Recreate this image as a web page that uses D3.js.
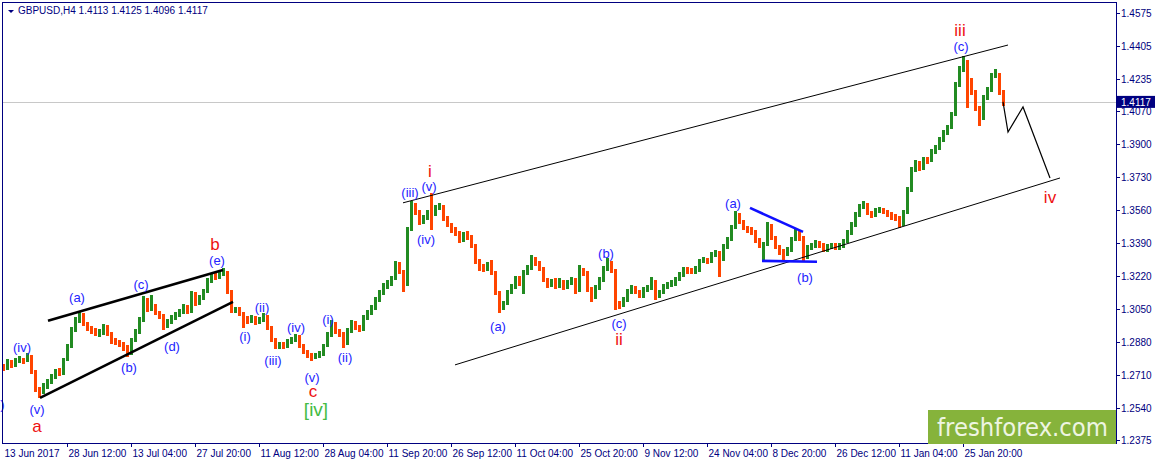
<!DOCTYPE html>
<html><head><meta charset="utf-8">
<script src="https://cdn.jsdelivr.net/npm/d3@7"></script>
<style>body{margin:0;background:#fff;}svg{display:block;}</style>
</head><body><svg id="c" width="1155" height="465"></svg>
<script>
// ---- data: GBPUSD H4, each point aggregates 4 H4 bars ----
const barStep = 4;
const firstOpen = 1.2750;
const closes = [
1.2746,1.2773,1.2762,1.2778,1.2788,1.2783,1.2803,1.2726,1.2633,1.2623,
1.2654,1.2675,1.2700,1.2726,1.2721,1.2788,1.2855,1.2942,1.2994,1.3024,
1.2973,1.2948,1.2937,1.2922,1.2927,1.2958,1.2922,1.2886,1.2876,1.2870,
1.2850,1.2824,1.2891,1.2932,1.2994,1.3097,1.3050,1.3066,1.3030,1.3014,
1.2963,1.2984,1.3004,1.3019,1.3035,1.3061,1.3035,1.3133,1.3076,1.3107,
1.3138,1.3195,1.3221,1.3215,1.3231,1.3236,1.3138,1.3040,1.3045,1.3024,
1.2994,1.2989,1.3004,1.2984,1.2994,1.3009,1.2953,1.2891,1.2855,1.2865,
1.2855,1.2881,1.2891,1.2906,1.2860,1.2829,1.2808,1.2803,1.2808,1.2819,
1.2860,1.2917,1.2973,1.2932,1.2922,1.2870,1.2937,1.2978,1.2953,1.2942,
1.3004,1.3030,1.3055,1.3097,1.3133,1.3169,1.3184,1.3205,1.3282,1.3241,
1.3179,1.3457,1.3581,1.3550,1.3499,1.3519,1.3545,1.3540,1.3571,1.3576,
1.3519,1.3483,1.3457,1.3442,1.3406,1.3427,1.3422,1.3375,1.3293,1.3262,
1.3257,1.3277,1.3236,1.3133,1.3055,1.3076,1.3133,1.3164,1.3205,1.3184,
1.3236,1.3262,1.3308,1.3288,1.3257,1.3200,1.3174,1.3190,1.3169,1.3190,
1.3164,1.3184,1.3200,1.3143,1.3246,1.3236,1.3153,1.3112,1.3159,1.3200,
1.3257,1.3282,1.3246,1.3076,1.3071,1.3097,1.3138,1.3159,1.3138,1.3117,
1.3148,1.3159,1.3190,1.3117,1.3133,1.3164,1.3174,1.3179,1.3200,1.3226,
1.3251,1.3246,1.3241,1.3251,1.3293,1.3303,1.3293,1.3329,1.3339,1.3303,
1.3370,1.3406,1.3468,1.3535,1.3499,1.3468,1.3457,1.3447,1.3406,1.3375,
1.3380,1.3478,1.3416,1.3370,1.3344,1.3339,1.3354,1.3406,1.3442,1.3416,
1.3313,1.3365,1.3375,1.3390,1.3380,1.3354,1.3370,1.3375,1.3365,1.3375,
1.3396,1.3442,1.3483,1.3535,1.3576,1.3586,1.3545,1.3530,1.3555,1.3560,
1.3550,1.3535,1.3524,1.3519,1.3488,1.3545,1.3663,1.3766,1.3803,1.3777,
1.3818,1.3813,1.3859,1.3880,1.3921,1.3957,1.3983,1.4050,1.4204,1.4282,
1.4323,1.4220,1.4168,1.4086,1.4034,1.4137,1.4178,1.4251,1.4256,1.4168,
1.4117];
const highs = [
1.2768,1.2790,1.2786,1.2795,1.2806,1.2800,1.2822,1.2812,1.2735,1.2650,
1.2670,1.2690,1.2716,1.2742,1.2745,1.2800,1.2868,1.2955,1.3010,1.3040,
1.3030,1.2985,1.2962,1.2950,1.2945,1.2975,1.2968,1.2930,1.2900,1.2892,
1.2882,1.2862,1.2902,1.2945,1.3008,1.3117,1.3105,1.3123,1.3075,1.3042,
1.3022,1.2998,1.3018,1.3032,1.3050,1.3075,1.3070,1.3145,1.3140,1.3122,
1.3152,1.3208,1.3236,1.3240,1.3248,1.3262,1.3245,1.3150,1.3062,1.3058,
1.3035,1.3012,1.3020,1.3015,1.3010,1.3030,1.3018,1.2962,1.2900,1.2880,
1.2878,1.2895,1.2905,1.2922,1.2915,1.2870,1.2840,1.2822,1.2825,1.2832,
1.2872,1.2930,1.2994,1.2982,1.2948,1.2930,1.2950,1.2992,1.2988,1.2965,
1.3018,1.3045,1.3070,1.3110,1.3148,1.3182,1.3200,1.3222,1.3295,1.3292,
1.3250,1.3470,1.3607,1.3595,1.3560,1.3535,1.3560,1.3648,1.3588,1.3595,
1.3585,1.3530,1.3495,1.3470,1.3452,1.3445,1.3450,1.3432,1.3385,1.3305,
1.3280,1.3292,1.3300,1.3245,1.3142,1.3092,1.3148,1.3178,1.3220,1.3218,
1.3250,1.3278,1.3329,1.3320,1.3298,1.3265,1.3212,1.3205,1.3210,1.3208,
1.3200,1.3198,1.3215,1.3210,1.3277,1.3262,1.3245,1.3165,1.3172,1.3215,
1.3270,1.3313,1.3295,1.3255,1.3090,1.3112,1.3152,1.3175,1.3170,1.3148,
1.3162,1.3175,1.3215,1.3200,1.3148,1.3178,1.3190,1.3200,1.3215,1.3240,
1.3265,1.3268,1.3262,1.3270,1.3308,1.3318,1.3315,1.3342,1.3355,1.3350,
1.3385,1.3420,1.3482,1.3555,1.3545,1.3510,1.3480,1.3470,1.3455,1.3415,
1.3395,1.3499,1.3488,1.3425,1.3380,1.3360,1.3370,1.3420,1.3460,1.3455,
1.3425,1.3380,1.3392,1.3405,1.3402,1.3392,1.3385,1.3390,1.3388,1.3390,
1.3410,1.3455,1.3498,1.3550,1.3592,1.3607,1.3595,1.3555,1.3570,1.3578,
1.3572,1.3562,1.3548,1.3540,1.3530,1.3560,1.3678,1.3782,1.3820,1.3815,
1.3832,1.3835,1.3875,1.3895,1.3935,1.3972,1.4000,1.4065,1.4220,1.4300,
1.4354,1.4335,1.4240,1.4180,1.4095,1.4150,1.4195,1.4265,1.4287,1.4265,
1.4180];
const lows = [
1.2731,1.2735,1.2748,1.2752,1.2770,1.2768,1.2775,1.2715,1.2620,1.2592,
1.2610,1.2640,1.2662,1.2690,1.2705,1.2712,1.2780,1.2848,1.2930,1.2980,
1.2960,1.2935,1.2922,1.2910,1.2908,1.2915,1.2910,1.2872,1.2862,1.2855,
1.2835,1.2803,1.2815,1.2880,1.2922,1.2985,1.3035,1.3040,1.3018,1.3000,
1.2942,1.2952,1.2975,1.2992,1.3008,1.3025,1.3022,1.3028,1.3065,1.3068,
1.3098,1.3130,1.3185,1.3200,1.3205,1.3222,1.3128,1.3028,1.3030,1.3012,
1.2953,1.2975,1.2978,1.2970,1.2972,1.2985,1.2942,1.2880,1.2842,1.2845,
1.2842,1.2848,1.2870,1.2880,1.2850,1.2818,1.2795,1.2783,1.2790,1.2798,
1.2810,1.2852,1.2908,1.2920,1.2908,1.2850,1.2862,1.2928,1.2940,1.2930,
1.2935,1.2995,1.3020,1.3045,1.3088,1.3122,1.3155,1.3170,1.3198,1.3230,
1.3140,1.3170,1.3450,1.3535,1.3485,1.3488,1.3508,1.3457,1.3530,1.3560,
1.3505,1.3470,1.3442,1.3428,1.3392,1.3395,1.3408,1.3362,1.3280,1.3248,
1.3242,1.3245,1.3225,1.3120,1.3030,1.3045,1.3068,1.3125,1.3155,1.3170,
1.3125,1.3225,1.3250,1.3272,1.3245,1.3188,1.3160,1.3162,1.3155,1.3158,
1.3150,1.3152,1.3172,1.3128,1.3135,1.3222,1.3140,1.3086,1.3100,1.3150,
1.3190,1.3245,1.3235,1.3045,1.3050,1.3060,1.3088,1.3128,1.3125,1.3105,
1.3108,1.3138,1.3150,1.3097,1.3108,1.3125,1.3155,1.3162,1.3170,1.3192,
1.3215,1.3232,1.3228,1.3232,1.3242,1.3285,1.3280,1.3285,1.3318,1.3215,
1.3295,1.3360,1.3398,1.3460,1.3488,1.3455,1.3442,1.3432,1.3392,1.3362,
1.3300,1.3372,1.3405,1.3358,1.3330,1.3300,1.3325,1.3345,1.3398,1.3402,
1.3293,1.3305,1.3352,1.3362,1.3365,1.3342,1.3345,1.3358,1.3352,1.3355,
1.3365,1.3388,1.3432,1.3475,1.3525,1.3565,1.3532,1.3518,1.3522,1.3545,
1.3538,1.3522,1.3510,1.3505,1.3468,1.3480,1.3538,1.3655,1.3755,1.3762,
1.3768,1.3798,1.3805,1.3848,1.3870,1.3910,1.3945,1.3975,1.4042,1.4195,
1.4270,1.4086,1.4150,1.4070,1.3993,1.4025,1.4125,1.4168,1.4240,1.4150,
1.4096];

const priceTicks = ['1.4575','1.4405','1.4235','1.4070','1.3900','1.3730','1.3560','1.3390','1.3220','1.3050','1.2880','1.2710','1.2540','1.2375'];
const timeLabels = ['13 Jun 2017','28 Jun 12:00','13 Jul 04:00','27 Jul 20:00','11 Aug 12:00','28 Aug 04:00','11 Sep 20:00','26 Sep 12:00','11 Oct 04:00','25 Oct 20:00','9 Nov 12:00','24 Nov 04:00','8 Dec 20:00','26 Dec 12:00','11 Jan 04:00','25 Jan 20:00'];
const timeLabelBars = [0,64,128,192,256,320,384,448,512,576,640,704,768,832,896,960];
const lastPrice = 1.4117;
const headerText = 'GBPUSD,H4  1.4113 1.4125 1.4096 1.4117';

// trend lines: [bar, price] pairs
const channelLines = [
  [[400,1.3597],[1005,1.4410]],
  [[452,1.2762],[1057,1.3725]]
];
const wedgeLines = [
  [[45,1.2989],[220,1.3251]],
  [[37,1.2592],[230,1.3087]]
];
const triangleLines = [
  [[747,1.3571],[800,1.3447]],
  [[759,1.3298],[814,1.3293]]
];
const projection = [[1000,1.4117],[1005,1.3962],[1020,1.4091],[1047,1.3725]];

const blueLabels = [
  ['(iii)',-7,1.2556],['(iv)',19,1.2850],['(v)',34,1.2531],['(a)',74,1.3107],['(b)',126,1.2747],
  ['(c)',138,1.3174],['(d)',169,1.2855],['(e)',214,1.3298],['(i)',242,1.2906],['(ii)',259,1.3056],
  ['(iii)',270,1.2783],['(iv)',293,1.2953],['(v)',309,1.2697],['(i)',325,1.2994],['(ii)',342,1.2798],
  ['(iii)',407,1.3648],['(v)',426,1.3679],['(iv)',423,1.3406],['(a)',495,1.2958],['(b)',603,1.3334],
  ['(c)',616,1.2973],['(a)',730,1.3591],['(b)',802,1.3210],['(c)',958,1.4400]
];
const redLabels = [
  ['a',34,1.2443],['b',212,1.3380],['c',310,1.2626],['i',427,1.3756],['ii',616,1.2891],['iii',957,1.4487],['iv',1047,1.3622]
];
const greenLabels = [['[iv]',313,1.2530]];

// ---- drawing ----
const svg = d3.select('#c');
const L = 3, R = 1116, T = 3, B = 443;
const navy = '#000080';
const x = d3.scaleLinear().domain([0, 1113]).range([L, R]);
const y = d3.scaleLinear().domain([1.2375, 1.4575]).range([440, 13]);
const green = '#228b22', red = '#ff4500';
const font = "'Liberation Sans', Arial, sans-serif";

svg.append('defs').append('clipPath').attr('id','plot')
  .append('rect').attr('x',L).attr('y',T).attr('width',R-L).attr('height',B-T);

// last price line
svg.append('line').attr('x1',L).attr('x2',R).attr('y1',Math.round(y(lastPrice))+0.5).attr('y2',Math.round(y(lastPrice))+0.5)
  .attr('stroke','#c8c8c8').attr('stroke-width',1);

const bars = closes.map((c,i)=>({b:i*barStep, o: i? closes[i-1] : firstOpen, h: highs[i], l: lows[i], c}));
const gb = svg.append('g').attr('clip-path','url(#plot)').attr('shape-rendering','crispEdges');
gb.selectAll('line.hl').data(bars).join('line').attr('class','hl')
  .attr('x1',d=>Math.round(x(d.b))+0.5).attr('x2',d=>Math.round(x(d.b))+0.5)
  .attr('y1',d=>y(d.h)).attr('y2',d=>y(d.l))
  .attr('stroke',d=>d.c>=d.o?green:red).attr('stroke-width',3);

const lineGen = d3.line().x(d=>x(d[0])).y(d=>y(d[1]));
const ga = svg.append('g').attr('clip-path','url(#plot)');
ga.selectAll('path.ch').data(channelLines).join('path').attr('d',lineGen).attr('fill','none').attr('stroke','#000').attr('stroke-width',1);
ga.selectAll('path.wd').data(wedgeLines).join('path').attr('d',lineGen).attr('fill','none').attr('stroke','#000').attr('stroke-width',2.6);
ga.selectAll('path.tr').data(triangleLines).join('path').attr('d',lineGen).attr('fill','none').attr('stroke','#1010ff').attr('stroke-width',2.6);
ga.append('path').datum(projection).attr('d',lineGen).attr('fill','none').attr('stroke','#000').attr('stroke-width',1.2);

function labels(data, color, size){
  svg.append('g').selectAll('text').data(data).join('text')
    .attr('x',d=>x(d[1])).attr('y',d=>y(d[2]))
    .attr('text-anchor','middle').attr('dominant-baseline','central')
    .attr('font-family',font).attr('font-size',size).attr('fill',color).text(d=>d[0]);
}
labels(blueLabels,'#2323ff',13);
labels(redLabels,'#ee1111',17);
labels(greenLabels,'#44bb44',19);

// frame
svg.append('rect').attr('x',L-0.5).attr('y',T-0.5).attr('width',R-L+1).attr('height',B-T+1)
  .attr('fill','none').attr('stroke',navy).attr('stroke-width',1);

// right axis
const gy = svg.append('g').attr('shape-rendering','crispEdges');
priceTicks.forEach(t=>{
  const yy = Math.round(y(+t))+0.5;
  gy.append('line').attr('x1',R+0.5).attr('x2',R+3.5).attr('y1',yy).attr('y2',yy).attr('stroke',navy);
  gy.append('text').attr('x',R+5).attr('y',yy+3.5).attr('font-family',font).attr('font-size',10).attr('fill',navy).text(t);
});
// last price box
const ly = y(lastPrice);
svg.append('rect').attr('x',R+1).attr('y',ly-6).attr('width',1155-R-1).attr('height',12).attr('fill',navy);
svg.append('text').attr('x',R+5).attr('y',ly+4).attr('font-family',font).attr('font-size',10).attr('fill','#fff').text(lastPrice.toFixed(4));

// bottom axis
const gx = svg.append('g').attr('shape-rendering','crispEdges');
timeLabels.forEach((t,i)=>{
  const xx = Math.round(x(timeLabelBars[i]))+0.5;
  if(i>0) gx.append('line').attr('x1',xx).attr('x2',xx).attr('y1',B).attr('y2',B+4).attr('stroke',navy);
  gx.append('text').attr('x',xx+1).attr('y',457).attr('font-family',font).attr('font-size',10).attr('fill',navy).text(t);
});

// header
svg.append('path').attr('d','M8,10 L14,10 L11,13 Z').attr('fill',navy);
svg.append('text').attr('x',18).attr('y',14).attr('font-family',font).attr('font-size',10).attr('fill',navy).text(headerText);

// logo
svg.append('rect').attr('x',928).attr('y',410).attr('width',R-928).attr('height',34).attr('fill','#86b33b');
svg.append('text').attr('x',937).attr('y',436).attr('font-family',"'DejaVu Sans', sans-serif").attr('font-size',25)
  .attr('fill','#eef5e2').attr('textLength',171).attr('lengthAdjust','spacingAndGlyphs').text('freshforex.com');
</script></body></html>
